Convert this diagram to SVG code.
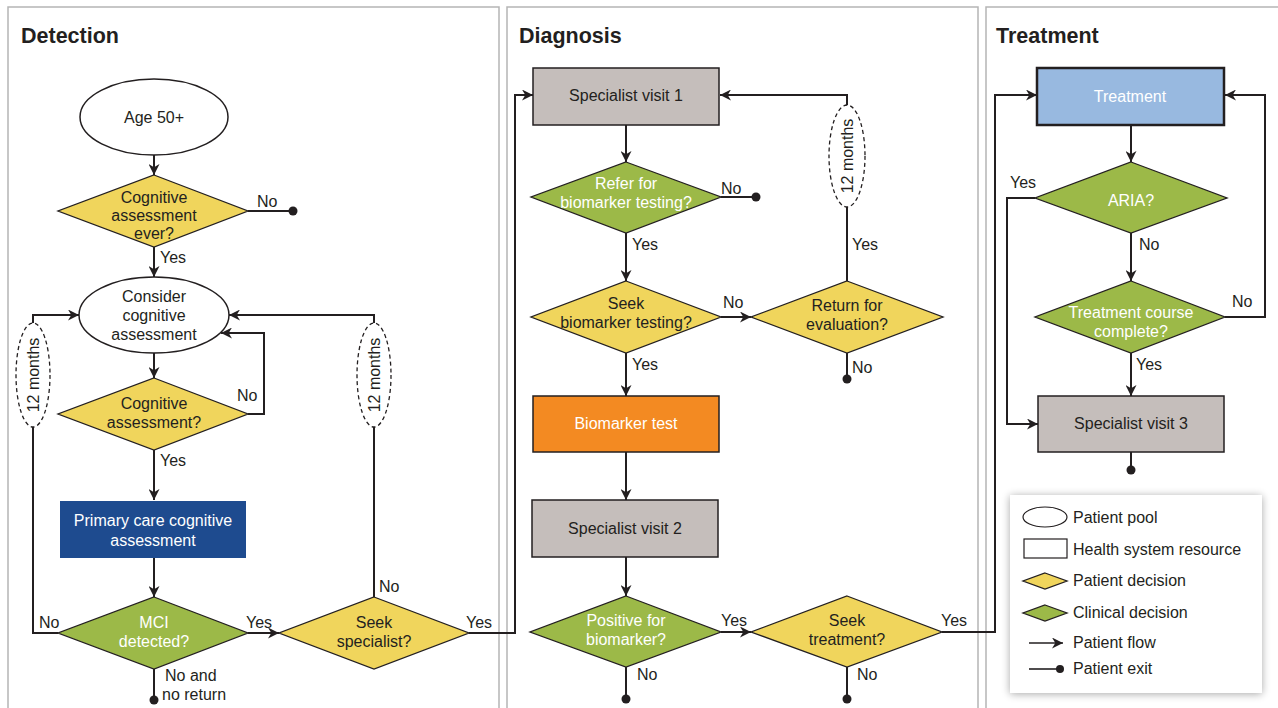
<svg xmlns="http://www.w3.org/2000/svg" width="1278" height="708" viewBox="0 0 1278 708">
<defs>
<style>
text{font-family:"Liberation Sans",Arial,sans-serif;font-size:16px;fill:#231f20}
.t{font-size:21.5px;font-weight:bold}
.c{text-anchor:middle}
.w{fill:#ffffff}
.panel{fill:#ffffff;stroke:#b5b5b5;stroke-width:1.5}
.ln{fill:none;stroke:#231f20;stroke-width:2}
.ar{fill:none;stroke:#231f20;stroke-width:2;marker-end:url(#ah)}
.dash{fill:#ffffff;stroke:#231f20;stroke-width:1.3;stroke-dasharray:4 3}
.ell{fill:#ffffff;stroke:#231f20;stroke-width:1.5}
.yel{fill:#f0d55c;stroke:#231f20;stroke-width:1.3}
.grn{fill:#9cb948;stroke:#231f20;stroke-width:1.3}
.gry{fill:#c5bebb;stroke:#231f20;stroke-width:1.5}
.dot{fill:#231f20}
</style>
<marker id="ah" viewBox="0 0 10 10" refX="10" refY="5" markerWidth="11" markerHeight="11" markerUnits="userSpaceOnUse" orient="auto">
<path d="M0,0 L10,5 L0,10 L3,5 Z" fill="#231f20"/>
</marker>
<filter id="sh" x="-10%" y="-10%" width="120%" height="120%">
<feGaussianBlur in="SourceAlpha" stdDeviation="4"/>
<feOffset dx="0" dy="1"/>
<feComponentTransfer><feFuncA type="linear" slope="0.35"/></feComponentTransfer>
<feMerge><feMergeNode/><feMergeNode in="SourceGraphic"/></feMerge>
</filter>
</defs>
<rect width="1278" height="708" fill="#ffffff"/>
<g id="panels">
<rect class="panel" x="8" y="7" width="491" height="720"/>
<rect class="panel" x="507" y="7" width="471" height="720"/>
<rect class="panel" x="986" y="7" width="300" height="720"/>
<text class="t" x="21" y="43">Detection</text>
<text class="t" x="519" y="43">Diagnosis</text>
<text class="t" x="996" y="43">Treatment</text>
</g>

<g id="connectors">
<!-- Detection -->
<path class="ar" d="M154,155 V175"/>
<path class="ln" d="M248,211 H293"/>
<circle class="dot" cx="293" cy="211" r="4.5"/>
<path class="ar" d="M154,247 V277"/>
<path class="ar" d="M154,353 V378"/>
<path class="ar" d="M248,414 H264 V333 H221"/>
<path class="ar" d="M154,450 V500"/>
<path class="ar" d="M154,558 V597"/>
<path class="ln" d="M58,633 H33 V427"/>
<path class="ar" d="M33,323 V315 H79"/>
<path class="ln" d="M374,597 V427"/>
<path class="ar" d="M374,323 V315 H229"/>
<path class="ar" d="M248,633 H279"/>
<path class="ln" d="M154,669 V700"/>
<circle class="dot" cx="154" cy="700" r="4.5"/>
<path class="ar" d="M469,633 H515 V95 H533"/>
<!-- Diagnosis -->
<path class="ar" d="M626,125 V162"/>
<path class="ln" d="M721,197 H756"/>
<circle class="dot" cx="756" cy="197" r="4.5"/>
<path class="ar" d="M626,233 V281"/>
<path class="ar" d="M721,317 H751"/>
<path class="ln" d="M847,281 V207"/>
<path class="ar" d="M847,105 V95 H720"/>
<path class="ln" d="M847,353 V379"/>
<circle class="dot" cx="847" cy="379" r="4.5"/>
<path class="ar" d="M626,353 V396"/>
<path class="ar" d="M626,452 V500"/>
<path class="ar" d="M626,557 V596"/>
<path class="ar" d="M721,632 H751"/>
<path class="ln" d="M626,667 V699"/>
<circle class="dot" cx="626" cy="699" r="4.5"/>
<path class="ln" d="M847,667 V699"/>
<circle class="dot" cx="847" cy="699" r="4.5"/>
<path class="ar" d="M942,632 H995 V95 H1037"/>
<!-- Treatment -->
<path class="ar" d="M1131,125 V162"/>
<path class="ar" d="M1035,198 H1007 V424 H1038"/>
<path class="ar" d="M1131,233 V281"/>
<path class="ar" d="M1225,317 H1265 V95 H1225"/>
<path class="ar" d="M1131,353 V396"/>
<path class="ln" d="M1131,452 V470"/>
<circle class="dot" cx="1131" cy="470" r="4.5"/>
<!-- 12 months ellipses -->
<ellipse class="dash" cx="33" cy="375" rx="17" ry="52"/>
<text class="c" transform="translate(33,375) rotate(-90)" x="0" y="6">12 months</text>
<ellipse class="dash" cx="374" cy="375" rx="17" ry="52"/>
<text class="c" transform="translate(374,375) rotate(-90)" x="0" y="6">12 months</text>
<ellipse class="dash" cx="847" cy="156" rx="18" ry="51"/>
<text class="c" transform="translate(847,156) rotate(-90)" x="0" y="6">12 months</text>
<!-- labels -->
<text x="257" y="207">No</text>
<text x="160" y="263">Yes</text>
<text x="237" y="401">No</text>
<text x="160" y="466">Yes</text>
<text x="39" y="628">No</text>
<text x="246" y="628">Yes</text>
<text x="379" y="592">No</text>
<text x="466" y="628">Yes</text>
<text x="165" y="681">No and</text>
<text x="162" y="700">no return</text>
<text x="721" y="194">No</text>
<text x="632" y="250">Yes</text>
<text x="723" y="308">No</text>
<text x="852" y="250">Yes</text>
<text x="852" y="373">No</text>
<text x="632" y="370">Yes</text>
<text x="721" y="626">Yes</text>
<text x="637" y="680">No</text>
<text x="857" y="680">No</text>
<text x="941" y="626">Yes</text>
<text x="1010" y="188">Yes</text>
<text x="1139" y="250">No</text>
<text x="1232" y="307">No</text>
<text x="1136" y="370">Yes</text>
</g>

<g id="age50">
<ellipse class="ell" cx="154" cy="117" rx="74" ry="38"/>
<text class="c" x="154" y="123">Age 50+</text>
</g>
<g id="cog-ever">
<polygon class="yel" points="154,175 248,211 154,247 58,211"/>
<text class="c" x="154" y="203">Cognitive</text>
<text class="c" x="154" y="221">assessment</text>
<text class="c" x="154" y="239">ever?</text>
</g>
<g id="consider">
<ellipse class="ell" cx="154" cy="315" rx="75" ry="38"/>
<text class="c" x="154" y="302">Consider</text>
<text class="c" x="154" y="321">cognitive</text>
<text class="c" x="154" y="340">assessment</text>
</g>
<g id="cog-assess">
<polygon class="yel" points="154,378 248,414 154,450 58,414"/>
<text class="c" x="154" y="409">Cognitive</text>
<text class="c" x="154" y="428">assessment?</text>
</g>
<g id="primary">
<rect x="60" y="501" width="186" height="57" fill="#1e4b8f"/>
<text class="c w" x="153" y="526">Primary care cognitive</text>
<text class="c w" x="153" y="546">assessment</text>
</g>
<g id="mci">
<polygon class="grn" points="154,597 248,633 154,669 58,633"/>
<text class="c w" x="154" y="628">MCI</text>
<text class="c w" x="154" y="647">detected?</text>
</g>
<g id="seek-spec">
<polygon class="yel" points="374,597 469,633 374,669 279,633"/>
<text class="c" x="374" y="628">Seek</text>
<text class="c" x="374" y="647">specialist?</text>
</g>

<g id="spec1">
<rect class="gry" x="533" y="68" width="186" height="57"/>
<text class="c" x="626" y="101">Specialist visit 1</text>
</g>
<g id="refer">
<polygon class="grn" points="626,162 721,197 626,233 531,197"/>
<text class="c w" x="626" y="189">Refer for</text>
<text class="c w" x="626" y="208">biomarker testing?</text>
</g>
<g id="seek-bio">
<polygon class="yel" points="626,281 721,317 626,353 531,317"/>
<text class="c" x="626" y="309">Seek</text>
<text class="c" x="626" y="328">biomarker testing?</text>
</g>
<g id="return">
<polygon class="yel" points="847,281 943,317 847,353 751,317"/>
<text class="c" x="847" y="311">Return for</text>
<text class="c" x="847" y="330">evaluation?</text>
</g>
<g id="biotest">
<rect x="533" y="396" width="186" height="56" fill="#f38a22" stroke="#231f20" stroke-width="1.5"/>
<text class="c w" x="626" y="429">Biomarker test</text>
</g>
<g id="spec2">
<rect class="gry" x="532" y="500" width="186" height="57"/>
<text class="c" x="625" y="534">Specialist visit 2</text>
</g>
<g id="positive">
<polygon class="grn" points="626,596 721,632 626,667 530,632"/>
<text class="c w" x="626" y="626">Positive for</text>
<text class="c w" x="626" y="645">biomarker?</text>
</g>
<g id="seek-treat">
<polygon class="yel" points="847,596 942,632 847,667 751,632"/>
<text class="c" x="847" y="626">Seek</text>
<text class="c" x="847" y="645">treatment?</text>
</g>

<g id="treatment">
<rect x="1037" y="68" width="187" height="57" fill="#98b9e0" stroke="#231f20" stroke-width="2.5"/>
<text class="c w" x="1130" y="102">Treatment</text>
</g>
<g id="aria">
<polygon class="grn" points="1131,162 1227,198 1131,233 1035,198"/>
<text class="c w" x="1131" y="206">ARIA?</text>
</g>
<g id="course">
<polygon class="grn" points="1131,281 1225,317 1131,353 1035,317"/>
<text class="c w" x="1131" y="318">Treatment course</text>
<text class="c w" x="1131" y="337">complete?</text>
</g>
<g id="spec3">
<rect class="gry" x="1038" y="396" width="186" height="56"/>
<text class="c" x="1131" y="429">Specialist visit 3</text>
</g>

<g id="legend">
<rect x="1010" y="495" width="252" height="198" fill="#ffffff" filter="url(#sh)"/>
<ellipse cx="1045" cy="517" rx="22" ry="10" fill="#ffffff" stroke="#231f20" stroke-width="1.2"/>
<text x="1073" y="523">Patient pool</text>
<rect x="1024" y="539" width="43" height="19" fill="#ffffff" stroke="#231f20" stroke-width="1.2"/>
<text x="1073" y="555">Health system resource</text>
<polygon class="yel" points="1045,573 1067,581 1045,589 1023,581"/>
<text x="1073" y="586">Patient decision</text>
<polygon class="grn" points="1045,605 1067,613 1045,621 1023,613"/>
<text x="1073" y="618">Clinical decision</text>
<path class="ar" d="M1029,643 H1063" style="stroke-width:1.6"/>
<text x="1073" y="648">Patient flow</text>
<path class="ln" d="M1029,669 H1060" style="stroke-width:1.6"/>
<circle class="dot" cx="1060" cy="669" r="4"/>
<text x="1073" y="674">Patient exit</text>
</g>
</svg>
